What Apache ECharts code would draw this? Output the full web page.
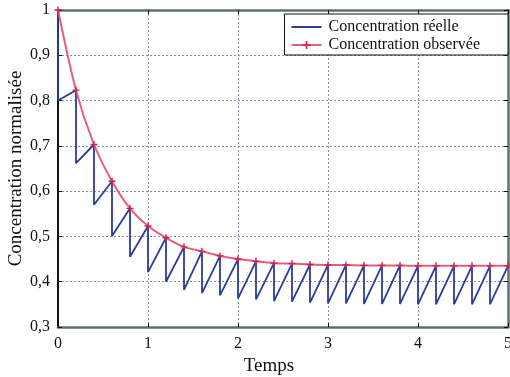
<!DOCTYPE html>
<html><head><meta charset="utf-8">
<script src="https://cdn.jsdelivr.net/npm/echarts@6/dist/echarts.min.js"></script>
<style>html,body{margin:0;padding:0;background:#fff}#c{width:510px;height:377px}</style>
</head><body><div id="c"></div>
<script>
// Temps d'échantillonnage (pas de 0,2)
const temps = [0,0.2,0.4,0.6,0.8,1.0,1.2,1.4,1.6,1.8,2.0,2.2,2.4,2.6,2.8,3.0,3.2,3.4,3.6,3.8,4.0,4.2,4.4,4.6,4.8,5.0];
// Concentration observée (échantillons)
const observee = [1,0.823,0.703,0.622,0.562,0.523,0.497,0.477,0.467,0.457,0.450,0.445,0.441,0.440,0.438,0.437,0.437,0.436,0.436,0.436,0.435,0.435,0.435,0.435,0.435,0.435];
// Concentration réelle : valeur juste avant chaque chute (pic) et juste après (creux)
const reellePic = [1,0.823,0.703,0.622,0.562,0.523,0.497,0.477,0.467,0.457,0.450,0.445,0.441,0.440,0.438,0.437,0.437,0.436,0.436,0.436,0.435,0.435,0.435,0.435,0.435,0.435];
const reelleCreux = [0.800,0.662,0.570,0.501,0.455,0.421,0.400,0.382,0.375,0.370,0.363,0.361,0.357,0.356,0.354,0.352,0.352,0.351,0.351,0.351,0.350,0.350,0.350,0.350,0.350,null];
const xTicks = ['0','1','2','3','4','5'];
const yTicks = ['0,3','0,4','0,5','0,6','0,7','0,8','0,9','1'];

const reelleData = [];
for (let i = 0; i < temps.length; i++) {
  reelleData.push([temps[i], reellePic[i]]);
  if (reelleCreux[i] !== null) reelleData.push([temps[i], reelleCreux[i]]);
}
const observeeData = temps.map((t, i) => [t, observee[i]]);

const font = '"Liberation Serif", "DejaVu Serif", serif';
const plus = 'path://M4,0 L6,0 L6,4 L10,4 L10,6 L6,6 L6,10 L4,10 L4,6 L0,6 L0,4 L4,4 Z';
const gridLine = {show: true, lineStyle: {color: '#8494a4', type: [2, 2], width: 1}};

const chart = echarts.init(document.getElementById('c'), null, {renderer: 'canvas'});
chart.setOption({
  animation: false,
  backgroundColor: '#fff',
  textStyle: {fontFamily: font},
  grid: {left: 58, right: 2, top: 10, bottom: 50, show: false, containLabel: false, outerBoundsMode: 'none'},
  legend: {
    right: 2, top: 14, orient: 'vertical', itemWidth: 30, itemHeight: 10, itemGap: 2,
    padding: [5, 28, 2, 6], borderColor: '#111', borderWidth: 1, backgroundColor: '#fff',
    textStyle: {fontFamily: font, fontSize: 16, color: '#111', padding: [0, 0, 0, 2]},
    data: [
      {name: 'Concentration réelle', itemStyle: {opacity: 0}},
      {name: 'Concentration observée'}
    ]
  },
  xAxis: [{
    type: 'value', min: 0, max: 5, interval: 1,
    name: 'Temps', nameLocation: 'middle', nameGap: 30, nameMoveOverlap: false,
    nameTextStyle: {fontFamily: font, fontSize: 19, color: '#111', padding: [0, 28, 0, 0]},
    axisLine: {show: true, onZero: false, lineStyle: {color: '#5f7070', width: 2.5}},
    axisTick: {show: true, inside: true, length: 4, lineStyle: {color: '#111'}},
    axisLabel: {fontFamily: font, fontSize: 16, color: '#111', margin: 9,
      formatter: v => xTicks[Math.round(v)]},
    splitLine: gridLine
  }, {
    type: 'value', min: 0, max: 5, interval: 1, position: 'top',
    axisLine: {show: true, onZero: false, lineStyle: {color: '#5f7070', width: 2.5}},
    axisTick: {show: true, inside: true, length: 4, lineStyle: {color: '#111'}},
    axisLabel: {show: false}, splitLine: {show: false}
  }],
  yAxis: [{
    type: 'value', min: 0.3, max: 1, interval: 0.1,
    name: 'Concentration normalisée', nameLocation: 'middle', nameGap: 32, nameMoveOverlap: false,
    nameTextStyle: {fontFamily: font, fontSize: 19, color: '#111'},
    axisLine: {show: true, onZero: false, lineStyle: {color: '#111', width: 2}},
    axisTick: {show: true, inside: true, length: 4, lineStyle: {color: '#111'}},
    axisLabel: {fontFamily: font, fontSize: 16, color: '#111', margin: 8,
      formatter: v => yTicks[Math.round(v * 10) - 3]},
    splitLine: gridLine
  }, {
    type: 'value', min: 0.3, max: 1, interval: 0.1, position: 'right',
    axisLine: {show: true, onZero: false, lineStyle: {color: '#5f7070', width: 2.5}},
    axisTick: {show: true, inside: true, length: 4, lineStyle: {color: '#111'}},
    axisLabel: {show: false}, splitLine: {show: false}
  }],
  series: [{
    name: 'Concentration réelle', type: 'line', data: reelleData,
    showSymbol: false, symbol: 'none',
    lineStyle: {color: '#2a3c9c', width: 1.8},
    itemStyle: {color: '#2a3c9c'}, z: 2
  }, {
    name: 'Concentration observée', type: 'line', data: observeeData, smooth: 0.3,
    symbol: plus, symbolSize: 7, showSymbol: true,
    lineStyle: {color: '#e2607c', width: 2},
    itemStyle: {color: '#d42040'}, z: 3
  }]
});
</script></body></html>
